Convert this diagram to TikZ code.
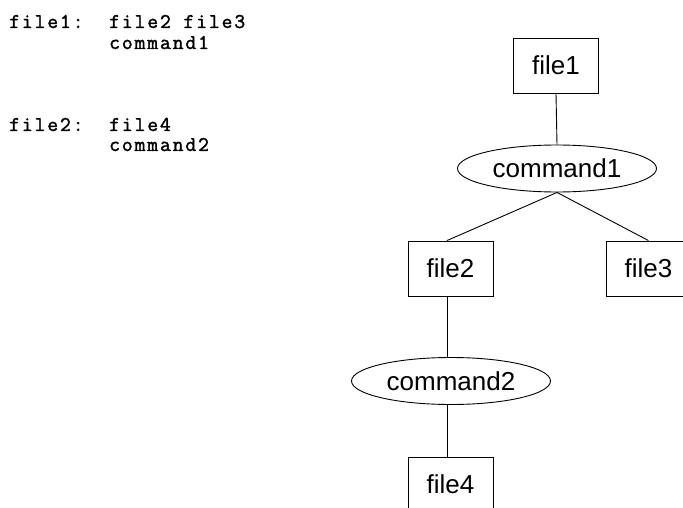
\documentclass[tikz,border=0pt]{standalone}
\usepackage{fontspec}
\setmainfont{Liberation Sans}
\newfontfamily\codefont[LetterSpace=9,FakeBold=1.6]{Latin Modern Mono}
\usetikzlibrary{shapes.geometric}
\tikzset{
  filebox/.style={draw, line width=0.9pt, rectangle, minimum width=85pt, minimum height=55pt, inner sep=0pt,
    font=\fontsize{26}{30}\selectfont},
  cmdnode/.style={draw, line width=0.9pt, ellipse, minimum width=199pt, minimum height=47pt, inner sep=0pt,
    font=\fontsize{26}{30}\selectfont},
  link/.style={line width=0.9pt},
  code/.style={anchor=base west, inner sep=0pt, font=\codefont\fontsize{21}{24}\selectfont}
}
\begin{document}
\begin{tikzpicture}[x=1pt, y=-1pt]
\useasboundingbox (0,0) rectangle (683,508);
\clip (0,0) rectangle (683,508);

% makefile rules
\node[code] (r1t) at (9,28) {file1:};
\node[code] (r1d) at (109,28) {file2 file3};
\node[code] (r1c) at (109,49) {command1};
\node[code] (r2t) at (9,131) {file2:};
\node[code] (r2d) at (109,131) {file4};
\node[code] (r2c) at (109,151) {command2};

% dependency tree
\node[filebox] (f1) at (556,65.5) {file1};
\node[cmdnode] (c1) at (557,168.5) {command1};
\node[filebox] (f2) at (450.5,268.5) {file2};
\node[filebox] (f3) at (648.5,268.5) {file3};
\node[cmdnode] (c2) at (451,381) {command2};
\node[filebox] (f4) at (450.5,484.5) {file4};

\draw[link] (f1.south) -- (c1.north);
\draw[link] (c1.south) -- ([xshift=-3.5pt]f2.north);
\draw[link] (c1.south) -- (f3.north);
\draw[link] ([xshift=-3.5pt]f2.south) -- ([xshift=-3.5pt]f2.south |- c2.north);
\draw[link] ([xshift=-3.5pt]f4.north |- c2.south) -- ([xshift=-3.5pt]f4.north);
\end{tikzpicture}
\end{document}
